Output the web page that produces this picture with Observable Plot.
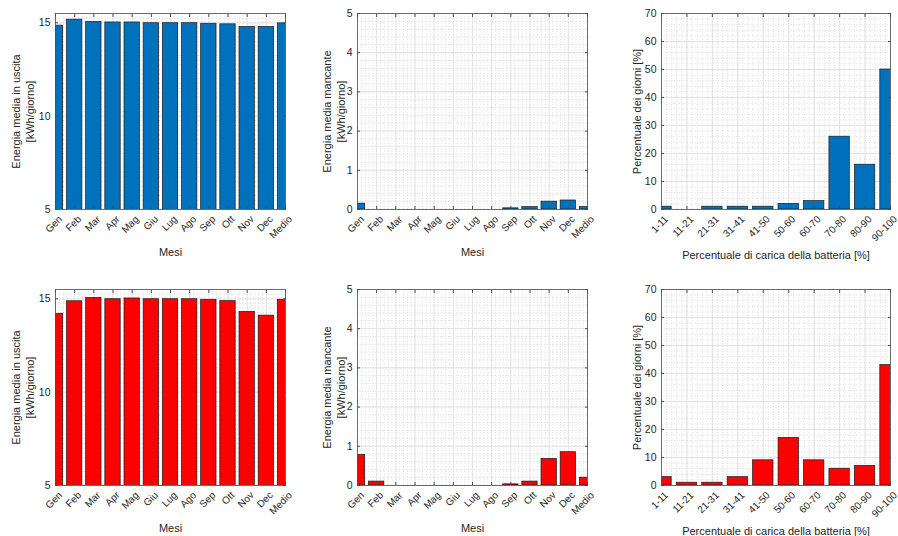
<!DOCTYPE html>
<html>
<head>
<meta charset="utf-8">
<script src="https://cdn.jsdelivr.net/npm/d3@7"></script>
<script src="https://cdn.jsdelivr.net/npm/@observablehq/plot@0.6"></script>
<style>
  html, body { margin: 0; padding: 0; background: #fff; }
  #wrap { position: relative; width: 898px; height: 536px; overflow: hidden; font-family: "Liberation Sans", Arial, Helvetica, sans-serif; }
</style>
</head>
<body>
<div id="wrap"></div>
<script>
// ---- data ----
const months = ["Gen", "Feb", "Mar", "Apr", "Mag", "Giu", "Lug", "Ago", "Sep", "Ott", "Nov", "Dec", "Medio"];
const chargeClasses = ["1-11", "11-21", "21-31", "31-41", "41-50", "50-60", "60-70", "70-80", "80-90", "90-100"];

const outputBlue = [14.85, 15.17, 15.05, 15.02, 15.02, 14.98, 14.98, 14.98, 14.95, 14.92, 14.78, 14.78, 14.97];
const missingBlue = [0.15, 0, 0, 0, 0, 0, 0, 0, 0.03, 0.06, 0.2, 0.23, 0.06];
const histBlue = [1, 0, 1, 1, 1, 2, 3, 26, 16, 50];

const outputRed = [14.2, 14.87, 15.05, 14.98, 15.02, 14.98, 14.98, 14.98, 14.95, 14.88, 14.3, 14.1, 14.95];
const missingRed = [0.78, 0.1, 0, 0, 0, 0, 0, 0, 0.03, 0.1, 0.68, 0.85, 0.2];
const histRed = [3, 1, 1, 3, 9, 17, 9, 6, 7, 43];

const ticksOutput = [5, 10, 15];
const ticksMissing = [0, 1, 2, 3, 4, 5];
const ticksHist = [0, 10, 20, 30, 40, 50, 60, 70];

const BLUE = "#0072BD";
const RED = "#FF0000";
const BAR_WIDTH = 0.8;
const AXIS_COLOR = "#262626";
const FONT = "'Liberation Sans', Arial, Helvetica, sans-serif";

function panel(o) {
  const n = o.labels.length;
  const data = o.values.map((v, i) => ({i: i + 1, v}));
  const xTicks = d3.range(1, n + 1);
  const xMinor = d3.range(1, n + 1e-9, 0.2);
  const yMinor = d3.range(o.yDomain[0], o.yDomain[1] + 1e-9, o.yMinor);
  const svg = Plot.plot({
    width: o.width,
    height: o.height,
    marginLeft: o.ml,
    marginRight: o.mr,
    marginTop: o.mt,
    marginBottom: o.mb,
    x: {type: "linear", domain: [1, n], axis: null},
    y: {domain: o.yDomain, axis: null},
    style: {fontFamily: FONT, fontSize: "10px", color: AXIS_COLOR, background: "transparent", overflow: "visible"},
    marks: [
      Plot.ruleY(yMinor, {stroke: "#c8c8c8", strokeWidth: 0.6, strokeDasharray: "1,1.6"}),
      Plot.ruleX(xMinor, {stroke: "#c8c8c8", strokeWidth: 0.6, strokeDasharray: "1,1.6"}),
      Plot.ruleY(o.yTicks, {stroke: "#dcdcdc", strokeWidth: 0.7}),
      Plot.ruleX(xTicks, {stroke: "#dcdcdc", strokeWidth: 0.7}),
      Plot.rectY(data, {
        x1: d => d.i - BAR_WIDTH / 2,
        x2: d => d.i + BAR_WIDTH / 2,
        y: "v",
        fill: o.color,
        stroke: "#1a1a1a",
        strokeWidth: 0.7,
        clip: true
      }),
      Plot.frame({stroke: "#4d4d4d", strokeWidth: 0.8}),
      Plot.axisY({ticks: o.yTicks, tickSize: 0, tickPadding: 5, tickFormat: d3.format("d"), label: null, fontSize: 10.5}),
      Plot.axisY({ticks: o.yTicks, tickSize: -3, tickFormat: () => "", label: null, stroke: "#4d4d4d"}),
      Plot.axisY({ticks: o.yTicks, anchor: "right", tickSize: -3, tickFormat: () => "", label: null, stroke: "#4d4d4d"}),
      Plot.axisX({ticks: xTicks, tickSize: 0, tickPadding: 3, tickRotate: -45, dx: 5, dy: 5, tickFormat: i => o.labels[i - 1], label: null, fontSize: 10}),
      Plot.axisX({ticks: xTicks, anchor: "top", tickSize: -3, tickFormat: () => "", label: null, stroke: "#4d4d4d"}),
      Plot.axisX({ticks: xTicks, tickSize: -3, tickFormat: () => "", label: null, stroke: "#4d4d4d"}),
      Plot.text([o.ylabel], {text: d => d, frameAnchor: "left", dx: o.ylabelDx, rotate: -90, textAnchor: "middle", lineAnchor: "middle", lineHeight: 1.25, fontSize: 11, fill: AXIS_COLOR}),
      Plot.text([o.xlabel], {text: d => d, frameAnchor: "bottom", dy: o.xlabelDy, textAnchor: "middle", lineAnchor: "middle", fontSize: 11, fill: AXIS_COLOR})
    ]
  });
  svg.style.position = "absolute";
  svg.style.left = o.left + "px";
  svg.style.top = o.top + "px";
  document.getElementById("wrap").appendChild(svg);
}

const rows = [
  {top: 0, mt: 13, mb: 59, out: outputBlue, miss: missingBlue, hist: histBlue, color: BLUE},
  {top: 268, mt: 21, mb: 51, out: outputRed, miss: missingRed, hist: histRed, color: RED}
];

for (const r of rows) {
  panel({labels: months, values: r.out, color: r.color, yDomain: [5, 15.5], yTicks: ticksOutput, yMinor: 0.25,
    left: 0, top: r.top, width: 300, height: 268, ml: 55, mr: 15, mt: r.mt, mb: r.mb,
    ylabel: "Energia media in uscita\n[kWh/giorno]", ylabelDx: -33, xlabel: "Mesi", xlabelDy: 43});
  panel({labels: months, values: r.miss, color: r.color, yDomain: [0, 5], yTicks: ticksMissing, yMinor: 0.2,
    left: 300, top: r.top, width: 300, height: 268, ml: 57, mr: 13, mt: r.mt, mb: r.mb,
    ylabel: "Energia media mancante\n[kWh/giorno]", ylabelDx: -24, xlabel: "Mesi", xlabelDy: 43});
  panel({labels: chargeClasses, values: r.hist, color: r.color, yDomain: [0, 70], yTicks: ticksHist, yMinor: 2,
    left: 600, top: r.top, width: 298, height: 268, ml: 61, mr: 8, mt: r.mt, mb: r.mb,
    ylabel: "Percentuale dei giorni [%]", ylabelDx: -25, xlabel: "Percentuale di carica della batteria [%]", xlabelDy: 46});
}
</script>
</body>
</html>
